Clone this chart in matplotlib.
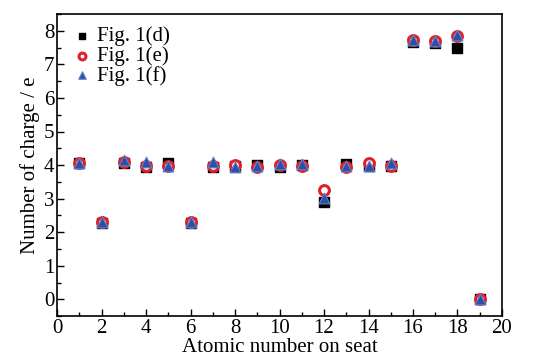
import numpy as np
import matplotlib
matplotlib.use('Agg')
import matplotlib.pyplot as plt

plt.rcParams['font.family'] = ['Liberation Serif', 'DejaVu Serif']

seat = [1, 2, 3, 4, 5, 6, 7, 8, 9, 10, 11, 12, 13, 14, 15, 16, 17, 18, 19]
charge_d = [4.05, 2.28, 4.05, 3.93, 4.05, 2.28, 3.93, 3.97, 4.00, 3.93, 4.00, 2.90, 4.03, 3.97, 3.97, 7.68, 7.65, 7.48, 0.00]
charge_e = [4.07, 2.30, 4.10, 3.98, 3.98, 2.30, 3.97, 4.00, 3.93, 4.00, 3.97, 3.25, 3.93, 4.05, 3.98, 7.72, 7.70, 7.85, 0.00]
charge_f = [4.05, 2.30, 4.15, 4.10, 3.97, 2.30, 4.10, 3.93, 3.97, 4.03, 4.03, 3.03, 3.97, 3.97, 4.05, 7.72, 7.70, 7.88, 0.00]

fig = plt.figure(figsize=(5.34, 3.6), dpi=100)
ax = fig.add_axes([0.107, 0.122, 0.833, 0.839])

ax.scatter(seat, charge_d, marker='s', s=42, color='black', label='Fig. 1(d)', zorder=2)
ax.scatter(seat, charge_e, marker='o', s=50, facecolor='white', edgecolor='#e0202a', linewidth=2.2, label='Fig. 1(e)', zorder=3)
ax.scatter(seat, charge_f, marker='^', s=60, facecolor='#2a50a8', edgecolor='#6080c8', linewidth=0.8, label='Fig. 1(f)', zorder=4)

ax.set_xlim(0, 20)
ax.set_ylim(-0.5, 8.5)
ax.set_xticks(np.arange(0, 21, 2))
ax.set_xticks(np.arange(1, 20, 2), minor=True)
ax.set_yticks(np.arange(0, 9, 1))
ax.set_yticks(np.arange(-0.5, 8.6, 1), minor=True)
ax.tick_params(direction='in', labelsize=15, length=5, width=1, pad=2)
ax.tick_params(which='minor', direction='in', length=3, width=1)
for s in ax.spines.values():
    s.set_linewidth(1.2)

ax.set_xlabel('Atomic number on seat', fontsize=15, labelpad=0)
ax.set_ylabel('Number of charge / e', fontsize=15, labelpad=3)

ax.legend(loc='upper left', frameon=False, fontsize=15, handletextpad=0.1,
          borderaxespad=0.2, labelspacing=0.0, handlelength=1.2, markerscale=0.7)

fig.savefig('out.png', dpi=100)
